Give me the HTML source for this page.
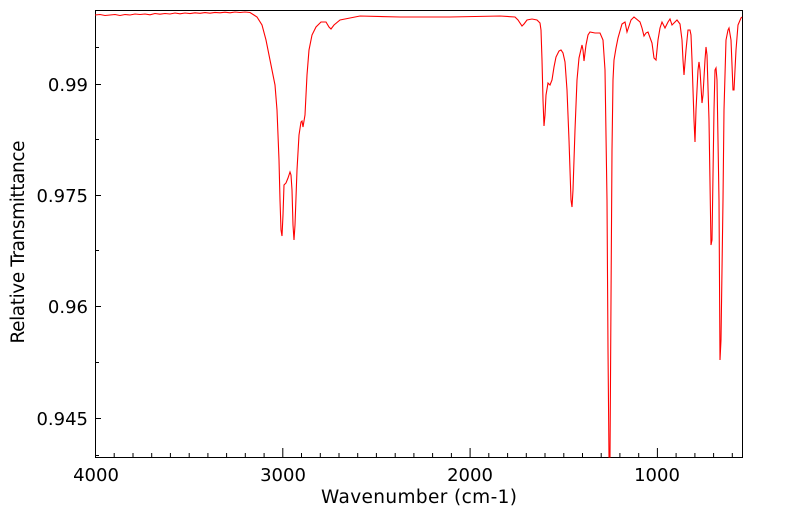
<!DOCTYPE html>
<html><head><style>body{margin:0;background:#fff}svg{display:block}text{font-family:"DejaVu Sans","Liberation Sans",sans-serif;fill:#000}</style></head><body>
<svg width="799" height="516" viewBox="0 0 799 516">
<rect x="95.5" y="10.5" width="647" height="447" fill="none" stroke="#000" stroke-width="1"/>
<g stroke="#000" stroke-width="1">
<path d="M95,84.5h6M95,195.5h6M95,306.5h6M95,418.5h6M95,47.5h4M95,139.5h4M95,250.5h4M95,362.5h4M95,455.5h4"/>
<path d="M95.5,457v-9M282.8,457v-9M470.1,457v-9M657.4,457v-9"/>
<path d="M114.2,457v-4M133,457v-4M151.7,457v-4M170.4,457v-4M189.2,457v-4M207.9,457v-4M226.6,457v-4M245.3,457v-4M264.1,457v-4M301.5,457v-4M320.3,457v-4M339,457v-4M357.7,457v-4M376.4,457v-4M395.2,457v-4M413.9,457v-4M432.6,457v-4M451.4,457v-4M488.8,457v-4M507.6,457v-4M526.3,457v-4M545,457v-4M563.8,457v-4M582.5,457v-4M601.2,457v-4M619.9,457v-4M638.7,457v-4M676.1,457v-4M694.9,457v-4M713.6,457v-4M732.3,457v-4"/>
</g>
<g font-size="18" text-anchor="end">
<text x="88" y="91">0.99</text>
<text x="88" y="202">0.975</text>
<text x="88" y="313">0.96</text>
<text x="88" y="425">0.945</text>
</g>
<g font-size="18" text-anchor="middle">
<text x="96" y="481">4000</text>
<text x="283" y="481">3000</text>
<text x="470" y="481">2000</text>
<text x="657" y="481">1000</text>
</g>
<g font-size="18.5" text-anchor="middle">
<text x="419" y="503" textLength="196">Wavenumber (cm-1)</text>
<text transform="translate(24,242) rotate(-90)" textLength="203">Relative Transmittance</text>
</g>
<polyline fill="none" stroke="#f00" stroke-width="1.1" points="95,15 100,14.5 105,15.5 110,15 115,14.5 120,15.5 125,14.5 130,15 135,14 140,14.5 145,14 150,14.8 155,13.5 160,14.2 165,13.5 170,14 175,13 180,13.8 185,13 190,13.6 195,12.8 200,13.3 205,12.6 210,13.2 215,12.4 220,12.8 225,12.2 230,12.8 235,12 240,12.5 245,12 250,12.5 257,17 262,25 266,40 270,60 273,75 275,85 277,110 279,160 280,200 281,230 282,236 283,215 284,185 286,183 288,178 290,172 291,175 292,190 293,225 294,240 295,225 297,170 299,135 301,122 302,121 303,127 305,115 307,75 309,50 312,35 316,27 321,22 326,22 329,27 331,29 334,25 340,20 350,18 360,16 400,17 450,17 500,16 515,17 518,20 522,26 524,24 527,20 532,19 537,20 540,23 541,30 542,60 543,100 544,126 545,115 546,95 548,83 550,85 552,80 554,67 556,57 559,51 561,50 563,53 565,62 567,90 569,140 571,200 572,207 573,190 575,130 577,80 579,58 582,45 583,50 584,61 586,45 588,35 590,32 595,33 600,33 603,40 605,70 607,200 608,350 609,457 610,457 611,300 612,150 613,80 614,60 616,48 618,38 622,24 625,22 627,32 631,20 634,17 640,22 642,28 644,36 646,33 648,32 652,43 654,58 656,60 658,40 660,28 662,22 665,28 668,22 670,19 672,25 675,22 677,20 680,24 682,40 683,60 684,75 686,50 688,30 690,30 691,35 692,60 694,120 695,142 696,110 698,70 699,62 700,70 702,103 703,95 705,60 706,47 707,55 709,120 711,245 712,240 714,110 715,70 716,68 717,80 719,200 720,360 721,340 723,200 724,110 726,40 728,30 729,28 731,40 733,90 734,90 736,50 738,25 741,18 742,17"/>
</svg>
</body></html>
